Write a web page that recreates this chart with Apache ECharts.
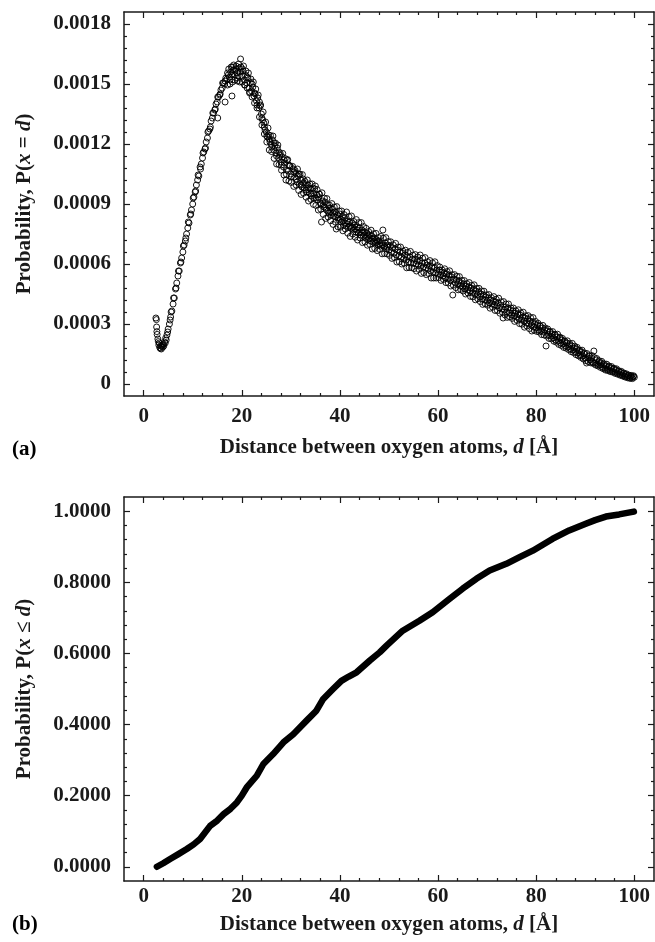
<!DOCTYPE html>
<html>
<head>
<meta charset="utf-8">
<script src="https://cdn.jsdelivr.net/npm/echarts@6/dist/echarts.min.js"></script>
<style>
html, body { margin: 0; padding: 0; background: #fff; }
#chart { width: 655px; height: 942px; }
</style>
</head>
<body>
<div id="chart"></div>
<script>
// panel (a): P(x = d), values in units of 1e-4
var pointsA = [
  [2.5,3.30],[2.6,3.22],[2.65,2.85],[2.7,2.62],[2.75,2.48],[2.9,2.25],[3.0,2.12],[3.1,1.95],[3.2,2.05],[3.3,1.82],
  [3.4,1.78],[3.5,1.92],[3.6,1.75],[3.7,1.88],[3.8,1.95],[3.9,1.84],[4.0,2.00],[4.1,1.90],[4.25,2.10],[4.4,2.05],
  [4.5,2.30],[4.6,2.20],[4.75,2.45],[4.9,2.60],[5.0,2.75],[5.25,3.00],[5.4,3.20],[5.5,3.35],[5.75,3.65],[6.0,4.00],
  [6.25,4.30],[6.5,4.75],[6.75,5.05],[7.0,5.40],[7.25,5.65],[7.5,6.05],[7.75,6.30],[8.0,6.60],[8.25,6.95],[8.5,7.15],
  [8.75,7.50],[9.0,7.80],[9.25,8.05],[9.5,8.45],[9.75,8.70],[10.0,9.00],[10.25,9.35],[10.5,9.60],[10.75,9.95],[11.0,10.20],
  [11.25,10.40],[11.5,10.85],[11.75,11.00],[12.0,11.30],[12.25,11.60],[12.5,11.75],[12.75,12.10],[13.0,12.30],[13.25,12.65],[13.5,12.75],
  [13.75,13.15],[14.0,13.30],[14.25,13.55],[14.5,13.70],[14.75,14.00],[15.0,14.10],[15.25,14.35],[15.5,14.45],[15.75,14.70],[16.0,14.80],
  [16.25,15.05],[16.5,15.00],[16.75,15.30],[17.0,15.25],[17.25,15.45],[17.5,15.35],[17.75,15.60],[18.0,15.50],[18.25,15.70],[18.5,15.45],
  [18.75,15.75],[19.0,15.55],[19.25,15.40],[19.5,15.80],[19.75,16.25],[20.0,15.40],[20.25,15.65],[20.5,15.20],[20.75,15.45],[21.0,15.05],
  [21.25,15.30],[21.5,14.80],[21.75,15.05],[22.0,14.65],[22.25,14.85],[22.5,14.40],[22.75,14.50],[23.0,14.15],[23.25,14.30],[23.5,13.80],
  [23.75,13.90],[24.0,13.50],[24.25,13.20],[24.5,13.05],[24.75,12.70],[25.0,12.60],[25.25,12.35],[25.5,12.45],[25.75,12.10],[26.0,12.00],
  [26.25,12.20],[26.5,11.70],[26.75,11.90],[27.0,11.55],[27.25,11.80],[27.5,11.30],[27.75,11.45],[28.0,11.10],[28.25,11.35],[28.5,10.85],
  [28.75,11.05],[29.0,10.20],[29.25,11.20],[29.5,10.65],[29.75,10.90],[30.0,10.50],[30.5,10.75],[30.75,10.35],[31.0,10.55],[31.25,10.10],
  [31.5,10.40],[31.75,10.00],[32.0,10.20],[32.25,9.85],[32.5,10.25],[32.75,9.80],[33.0,9.95],[33.25,9.60],[33.5,9.95],[33.75,9.55],
  [34.0,9.75],[34.25,9.40],[34.5,9.80],[34.75,9.30],[35.0,9.90],[35.25,9.45],[35.5,9.20],[35.75,9.50],[36.0,9.05],[36.25,8.10],
  [36.5,9.15],[36.75,8.85],[37.0,9.10],[37.25,8.70],[37.5,8.95],[37.75,8.55],[38.0,8.80],[38.25,8.45],[38.5,8.75],[38.75,8.40],
  [39.0,8.60],[39.25,7.75],[39.5,8.45],[39.75,8.20],[40.0,8.50],[40.25,8.10],[40.5,8.35],[40.75,7.95],[41.0,8.30],[41.25,7.90],
  [41.5,8.15],[41.75,7.85],[42.0,8.10],[42.25,7.80],[42.5,8.05],[42.75,7.70],[43.0,7.95],[43.25,7.60],[43.5,7.85],[43.75,7.55],
  [44.0,7.80],[44.25,7.45],[44.5,7.70],[44.75,7.40],[45.0,7.60],[45.25,7.30],[45.5,7.55],[45.75,7.25],[46.0,7.45],[46.25,7.15],
  [46.5,7.40],[46.75,7.10],[47.0,7.30],[47.25,7.05],[47.5,7.20],[47.75,6.95],[48.0,7.15],[48.25,6.90],[48.5,7.05],[48.75,7.70],
  [49.0,6.85],[49.25,7.05],[49.5,6.75],[49.75,6.95],[50.0,6.70],[50.25,6.90],[50.5,6.60],[50.75,6.80],[51.0,6.55],[51.25,6.75],
  [51.5,6.45],[51.75,6.70],[52.0,6.40],[52.25,6.60],[52.5,6.35],[52.75,6.55],[53.0,6.25],[53.25,6.45],[53.5,6.20],[53.75,6.35],
  [54.0,6.10],[54.25,6.35],[54.5,6.05],[54.75,6.25],[55.0,6.05],[55.25,6.25],[55.5,6.00],[55.75,6.15],[56.0,5.95],[56.25,6.15],
  [56.5,5.90],[56.75,6.05],[57.0,5.85],[57.25,6.05],[57.5,5.80],[57.75,5.95],[58.0,5.75],[58.25,5.90],[58.5,5.65],[58.75,5.85],
  [59.0,5.60],[59.25,5.80],[59.5,5.55],[59.75,5.70],[60.0,5.50],[60.25,5.70],[60.5,5.45],[60.75,5.60],[61.0,5.40],[61.25,5.55],
  [61.5,5.30],[61.75,5.50],[62.0,5.25],[62.25,5.45],[62.5,5.20],[62.75,5.35],[63.0,4.45],[63.25,5.25],[63.5,5.05],[63.75,5.20],
  [64.0,5.00],[64.25,5.15],[64.5,4.90],[64.75,5.05],[65.0,4.85],[65.25,5.00],[65.5,4.75],[65.75,4.90],[66.0,4.70],[66.25,4.85],
  [66.5,4.65],[66.75,4.80],[67.0,4.55],[67.25,4.75],[67.5,4.50],[67.75,4.65],[68.0,4.45],[68.25,4.60],[68.5,4.35],[68.75,4.50],
  [69.0,4.25],[69.25,4.45],[69.5,4.20],[69.75,4.35],[70.0,4.15],[70.25,4.30],[70.5,4.05],[70.75,4.20],[71.0,4.00],[71.25,4.15],
  [71.5,3.95],[71.75,4.10],[72.0,3.90],[72.25,4.05],[72.5,3.80],[72.75,3.95],[73.0,3.75],[73.25,3.30],[73.5,3.70],[73.75,3.85],
  [74.0,3.60],[74.25,3.80],[74.5,3.55],[74.75,3.70],[75.0,3.45],[75.25,3.65],[75.5,3.40],[75.75,3.55],[76.0,3.35],[76.25,3.50],
  [76.5,3.25],[76.75,3.45],[77.0,3.20],[77.25,3.35],[77.5,3.15],[77.75,3.30],[78.0,3.05],[78.25,3.25],[78.5,3.00],[78.75,3.15],
  [79.0,2.95],[79.25,3.10],[79.5,2.85],[79.75,3.00],[80.0,2.80],[80.25,2.95],[80.5,2.70],[80.75,2.90],[81.0,2.65],[81.25,2.80],
  [81.5,2.60],[81.75,2.70],[82.0,1.90],[82.25,2.65],[82.5,2.45],[82.75,2.60],[83.0,2.40],[83.25,2.50],[83.5,2.30],[83.75,2.45],
  [84.0,2.20],[84.25,2.35],[84.5,2.15],[84.75,2.30],[85.0,2.05],[85.25,2.20],[85.5,2.00],[85.75,2.10],[86.0,1.90],[86.25,2.05],
  [86.5,1.85],[86.75,1.95],[87.0,1.75],[87.25,1.90],[87.5,1.70],[87.75,1.80],[88.0,1.60],[88.25,1.75],[88.5,1.55],[88.75,1.65],
  [89.0,1.45],[89.25,1.60],[89.5,1.40],[89.75,1.50],[90.0,1.30],[90.25,1.05],[90.5,1.30],[90.75,1.40],[91.0,1.20],[91.25,1.30],
  [91.5,1.10],[91.75,1.65],[92.0,1.05],[92.25,1.20],[92.5,1.00],[92.75,1.10],[93.0,0.95],[93.25,1.05],[93.5,0.85],[93.75,0.95],
  [94.0,0.80],[94.25,0.90],[94.5,0.75],[94.75,0.85],[95.0,0.70],[95.25,0.80],[95.5,0.65],[95.75,0.75],[96.0,0.60],[96.25,0.70],
  [96.5,0.55],[96.75,0.62],[97.0,0.50],[97.25,0.58],[97.5,0.45],[97.75,0.52],[98.0,0.40],[98.25,0.47],[98.5,0.37],[98.75,0.42],
  [99.0,0.33],[99.25,0.38],[99.5,0.32],[99.75,0.37],[100.0,0.34]
];
// second layer of points in the middle of the band
var extraA = [
  [17.1,15.55],[17.6,15.20],[18.1,15.85],[18.6,15.65],[19.1,15.30],[19.6,15.60],[20.1,15.75],[20.6,14.95],[21.1,15.35],[21.6,14.60],
  [22.1,15.00],[22.6,14.55],[23.1,13.95],[23.6,14.10],[24.1,13.30],[24.6,12.85],[25.1,12.40],[25.6,12.25],[26.1,11.85],[26.6,12.05],
  [27.1,11.40],[27.6,11.60],[28.1,10.95],[28.6,11.20],[29.1,10.70],[29.6,10.95],[30.1,10.35],[30.6,10.60],[31.1,10.25],[31.6,10.50],
  [32.1,9.95],[32.6,10.05],[33.1,9.70],[33.6,9.80],[34.1,9.50],[34.6,9.55],[35.1,9.30],[35.6,9.35],[36.1,9.00],[36.6,8.95],
  [37.1,8.80],[37.6,8.65],[38.1,8.60],[38.6,8.55],[39.1,8.35],[39.6,8.30],[40.1,8.25],[40.6,8.15],[41.1,8.05],[41.6,8.00],
  [42.1,7.90],[42.6,7.85],[43.1,7.75],[43.6,7.70],[44.1,7.60],[44.6,7.55],[45.1,7.45],[45.6,7.40],[46.1,7.30],[46.6,7.25],
  [47.1,7.15],[47.6,7.10],[48.1,7.00],[48.6,6.95],[49.1,6.90],[49.6,6.85]
];
// rising flank, slightly off the main trace
var riseA = [
  [5.6,3.60],[6.1,4.30],[6.6,4.80],[7.1,5.65],[7.6,6.10],[8.1,6.90],[8.6,7.30],[9.1,8.10],[9.6,8.50],[10.1,9.30],
  [10.6,9.65],[11.1,10.45],[11.6,10.75],[12.1,11.55],[12.6,11.80],[13.1,12.60],[13.6,12.85],[14.1,13.55],[14.6,13.75],[15.1,14.35],
  [15.6,14.50],[16.1,15.05],[16.6,15.15],[16.6,14.10],[18.0,14.40],[15.1,13.30]
];
// upper edge of the band
var upperA = [
  [17.35,15.75],[17.85,15.85],[18.35,15.95],[18.85,15.90],[19.35,16.00],[19.85,15.85],[20.35,15.90],[20.85,15.65],[21.35,15.55],[21.85,15.25],
  [22.35,15.10],[22.85,14.75],[23.35,14.45],[23.85,13.95],[24.35,13.60],[24.85,13.10],[25.35,12.80],[25.85,12.42],[26.35,12.40],[26.85,12.05],
  [27.35,11.95],[27.85,11.52],[28.35,11.53],[28.85,11.27],[29.35,11.22],[29.85,10.90],[30.35,10.88],[30.85,10.68],[31.35,10.75],[31.85,10.49],
  [32.35,10.47],[32.85,10.14],[33.35,10.20],[33.85,10.01],[34.35,10.00],[34.85,9.76],[35.35,9.72],[35.85,9.49],[36.35,9.56],[36.85,9.29],
  [37.35,9.27],[37.85,8.95],[38.35,9.02],[38.85,8.85],[39.35,8.87],[39.85,8.65],[40.35,8.65],[40.85,8.47],[41.35,8.60],[41.85,8.37],
  [42.35,8.40],[42.85,8.12],[43.35,8.22],[43.85,8.07],[44.35,8.07],[44.85,7.87],[45.35,7.78],[45.85,7.62],[46.35,7.69],[46.85,7.51],
  [47.35,7.53],[47.85,7.32],[48.35,7.38],[48.85,7.29],[49.35,7.32],[49.85,7.12],[50.35,7.11],[50.85,6.96],[51.35,7.03],[51.85,6.85],
  [52.35,6.85],[52.85,6.64],[53.35,6.69],[53.85,6.58],[54.35,6.63],[54.85,6.44],[55.35,6.47],[55.85,6.35],[56.35,6.45],[56.85,6.29],
  [57.35,6.32],[57.85,6.11],[58.35,6.17],[58.85,6.06],[59.35,6.11],[59.85,5.92],[60.35,5.85],[60.85,5.70],[61.35,5.76],[61.85,5.62],
  [62.35,5.66],[62.85,5.46],[63.35,5.47],[63.85,5.38],[64.35,5.37],[64.85,5.18],[65.35,5.17],[65.85,5.02],[66.35,5.07],[66.85,4.93],
  [67.35,4.96],[67.85,4.78],[68.35,4.78],[68.85,4.65],[69.35,4.64],[69.85,4.46],[70.35,4.47],[70.85,4.32],[71.35,4.37],[71.85,4.24],
  [72.35,4.29],[72.85,4.11],[73.35,4.12],[73.85,4.00],[74.35,4.00],[74.85,3.80],[75.35,3.80],[75.85,3.66],[76.35,3.71],[76.85,3.56],
  [77.35,3.59],[77.85,3.41],[78.35,3.42],[78.85,3.32],[79.35,3.32],[79.85,3.13],[80.35,3.04],[80.85,2.90],[81.35,2.93],[81.85,2.80],
  [82.35,2.75],[82.85,2.62],[83.35,2.62],[83.85,2.48],[84.35,2.49],[84.85,2.34],[85.35,2.28],[85.85,2.15],[86.35,2.16],[86.85,2.02],
  [87.35,2.03],[87.85,1.89],[88.35,1.83],[88.85,1.69],[89.35,1.69],[89.85,1.55],[90.35,1.52],[90.85,1.41],[91.35,1.42],[91.85,1.32],
  [92.35,1.27],[92.85,1.16],[93.35,1.13],[93.85,1.01],[94.35,0.99],[94.85,0.90],[95.35,0.87],[95.85,0.78],[96.35,0.76],[96.85,0.66],
  [97.35,0.63],[97.85,0.55],[98.35,0.51],[98.85,0.45],[99.35,0.43],[99.85,0.41]
];
// lower edge of the band
var lowerA = [
  [17.1,14.95],[17.6,15.00],[18.1,15.10],[18.6,15.20],[19.1,15.15],[19.6,15.10],[20.1,15.10],[20.6,14.95],[21.1,14.80],[21.6,14.55],
  [22.1,14.35],[22.6,14.05],[23.1,13.80],[23.6,13.35],[24.1,12.95],[24.6,12.50],[25.1,12.10],[25.6,11.70],[26.1,11.62],[26.6,11.28],
  [27.1,11.00],[27.6,10.97],[28.1,10.69],[28.6,10.45],[29.1,10.48],[29.6,10.15],[30.1,10.08],[30.6,9.88],[31.1,9.94],[31.6,9.68],
  [32.1,9.48],[32.6,9.54],[33.1,9.34],[33.6,9.15],[34.1,9.23],[34.6,8.98],[35.1,8.93],[35.6,8.70],[36.1,8.74],[36.6,8.48],
  [37.1,8.28],[37.6,8.35],[38.1,8.16],[38.6,7.98],[39.1,8.09],[39.6,7.86],[40.1,7.84],[40.6,7.66],[41.1,7.75],[41.6,7.54],
  [42.1,7.38],[42.6,7.50],[43.1,7.34],[43.6,7.20],[44.1,7.30],[44.6,7.07],[45.1,7.10],[45.6,6.94],[46.1,6.98],[46.6,6.75],
  [47.1,6.78],[47.6,6.67],[48.1,6.73],[48.6,6.51],[49.1,6.52],[49.6,6.51],[50.1,6.43],[50.6,6.28],[51.1,6.32],[51.6,6.10],
  [52.1,6.11],[52.6,6.00],[53.1,6.04],[53.6,5.81],[54.1,5.82],[54.6,5.82],[55.1,5.77],[55.6,5.65],[56.1,5.73],[56.6,5.53],
  [57.1,5.57],[57.6,5.47],[58.1,5.52],[58.6,5.30],[59.1,5.30],[59.6,5.30],[60.1,5.32],[60.6,5.18],[61.1,5.23],[61.6,5.07],
  [62.1,5.05],[62.6,4.90],[63.1,4.94],[63.6,4.82],[64.1,4.71],[64.6,4.73],[65.1,4.65],[65.6,4.50],[66.1,4.55],[66.6,4.38],
  [67.1,4.36],[67.6,4.21],[68.1,4.26],[68.6,4.12],[69.1,3.98],[69.6,4.01],[70.1,3.94],[70.6,3.79],[71.1,3.84],[71.6,3.68],
  [72.1,3.67],[72.6,3.54],[73.1,3.59],[73.6,3.46],[74.1,3.33],[74.6,3.36],[75.1,3.28],[75.6,3.13],[76.1,3.18],[76.6,3.02],
  [77.1,2.99],[77.6,2.84],[78.1,2.90],[78.6,2.77],[79.1,2.65],[79.6,2.69],[80.1,2.63],[80.6,2.60],[81.1,2.47],[81.6,2.45],
  [82.1,2.40],[82.6,2.28],[83.1,2.26],[83.6,2.14],[84.1,2.09],[84.6,1.98],[85.1,1.93],[85.6,1.83],[86.1,1.79],[86.6,1.72],
  [87.1,1.62],[87.6,1.57],[88.1,1.47],[88.6,1.41],[89.1,1.33],[89.6,1.25],[90.1,1.17],[90.6,1.12],[91.1,1.06],[91.6,1.03],
  [92.1,0.95],[92.6,0.90],[93.1,0.83],[93.6,0.77],[94.1,0.70],[94.6,0.67],[95.1,0.62],[95.6,0.59],[96.1,0.53],[96.6,0.49],
  [97.1,0.44],[97.6,0.40],[98.1,0.35],[98.6,0.31],[99.1,0.28],[99.6,0.27]
];

// panel (b): cumulative P(x <= d)
var distB = [2.7, 4.0, 5.4, 7.0, 8.8, 10.2, 11.5, 13.55, 15.0, 16.3, 17.7, 19.0, 20.0, 21.0, 23.05, 24.4, 26.4, 28.5, 30.5, 33.2,
  35.2, 36.6, 38.6, 40.3, 41.8, 43.4, 46.1, 48.1, 49.5, 52.8, 56.2, 58.9, 62.3, 65.0, 67.8, 70.5, 73.9, 76.6, 79.3, 83.3,
  86.7, 90.1, 92.0, 94.2, 96.9, 99.9];
var cumB = [0.000, 0.010, 0.022, 0.035, 0.050, 0.063, 0.078, 0.115, 0.130, 0.148, 0.163, 0.181, 0.200, 0.223, 0.256, 0.289, 0.317, 0.350, 0.373, 0.411,
  0.439, 0.472, 0.500, 0.523, 0.535, 0.547, 0.580, 0.603, 0.622, 0.664, 0.692, 0.716, 0.753, 0.782, 0.810, 0.833, 0.852, 0.871, 0.889, 0.922,
  0.946, 0.965, 0.975, 0.985, 0.991, 0.999];

// ticks
var xTicks = [0, 20, 40, 60, 80, 100];
var yTicksA = [0, 0.0003, 0.0006, 0.0009, 0.0012, 0.0015, 0.0018];
var yTicksB = [0, 0.2, 0.4, 0.6, 0.8, 1.0];

var FONT = '"Liberation Serif", "Times New Roman", serif';
var INK = '#1a1a1a';
var FS = 21;

var chart = echarts.init(document.getElementById('chart'));

// minor tick positions between min and max, skipping the major ones
function minorTicks(min, max, step, majors) {
  var out = [];
  for (var i = 1; min + i * step < max - step / 2; i++) {
    var v = +(min + i * step).toFixed(7);
    if (majors.indexOf(v) < 0) out.push(v);
  }
  return out;
}

function txt(size, italic) {
  return { fontFamily: FONT, fontWeight: 'bold', fontSize: size, color: INK, fontStyle: italic ? 'italic' : 'normal' };
}

// four sided box: major + minor ticks on each side, all inside
function boxAxes(dim, grid, min, max, majors, minors, label) {
  var sides = dim === 'x' ? ['bottom', 'top'] : ['left', 'right'];
  var out = [];
  sides.forEach(function (side, s) {
    [true, false].forEach(function (major) {
      var ax = {
        type: 'value', gridIndex: grid, position: side, min: min, max: max,
        splitLine: { show: false },
        axisLine: { show: major, onZero: false, lineStyle: { color: INK, width: 1.5 } },
        axisTick: { show: true, inside: true, length: major ? 6 : 3, customValues: major ? majors : minors,
          lineStyle: { color: INK, width: 1.2 } },
        axisLabel: { show: false }
      };
      if (s === 0 && major && label) {
        ax.axisLabel = Object.assign({ show: true, customValues: majors, margin: label.margin,
          formatter: label.formatter }, txt(FS));
        ax.name = label.name;
        ax.nameLocation = 'middle';
        ax.nameGap = label.nameGap;
        ax.nameTextStyle = Object.assign(txt(FS), { rich: { r: txt(FS), i: txt(FS, true) } });
      }
      out.push(ax);
    });
  });
  return out;
}

var xName = '{r|Distance between oxygen atoms, }{i|d}{r| [Å]}';
var xMinor = minorTicks(-4, 104, 4, xTicks);

var xAxes = [].concat(
  boxAxes('x', 0, -4, 104, xTicks, xMinor, { margin: 10, nameGap: 41, name: xName }),
  boxAxes('x', 1, -4, 104, xTicks, xMinor, { margin: 5, nameGap: 33, name: xName })
);
var yAxes = [].concat(
  boxAxes('y', 0, -0.00006, 0.00186, yTicksA, minorTicks(-0.00006, 0.00186, 0.00006, yTicksA), {
    margin: 13, nameGap: 89, name: '{r|Probability, P(}{i|x}{r| = }{i|d}{r|)}',
    formatter: function (v) { return v === 0 ? '0' : v.toFixed(4); }
  }),
  boxAxes('y', 1, -0.04, 1.04, yTicksB, minorTicks(-0.04, 1.04, 0.04, yTicksB), {
    margin: 13, nameGap: 89, name: '{r|Probability, P(}{i|x}{r| ≤ }{i|d}{r|)}',
    formatter: function (v) { return v.toFixed(4); }
  })
);

function scaleA(list) {
  return list.map(function (p) { return [p[0], p[1] * 1e-4]; });
}

var circle = { color: 'rgba(255,255,255,0)', borderColor: '#000', borderWidth: 1, opacity: 0.9 };

function scatterA(list) {
  return { type: 'scatter', xAxisIndex: 0, yAxisIndex: 0, symbol: 'circle', symbolSize: 6,
    itemStyle: circle, data: scaleA(list) };
}

option = {
  backgroundColor: '#fff',
  animation: false,
  grid: [
    { left: 124, top: 12, width: 530, height: 384 },
    { left: 124, top: 497, width: 530, height: 384 }
  ],
  xAxis: xAxes,
  yAxis: yAxes,
  graphic: [
    { type: 'text', left: 12, top: 439, style: Object.assign({ text: '(a)' }, txt(FS)) },
    { type: 'text', left: 12, top: 914, style: Object.assign({ text: '(b)' }, txt(FS)) }
  ],
  series: [
    scatterA(pointsA),
    scatterA(extraA),
    scatterA(riseA),
    scatterA(upperA),
    scatterA(lowerA),
    { type: 'line', xAxisIndex: 4, yAxisIndex: 4, showSymbol: false, symbol: 'none',
      lineStyle: { color: '#000', width: 6.5, cap: 'round', join: 'round' },
      data: distB.map(function (d, i) { return [d, cumB[i]]; }) }
  ]
};
chart.setOption(option);
</script>
</body>
</html>
